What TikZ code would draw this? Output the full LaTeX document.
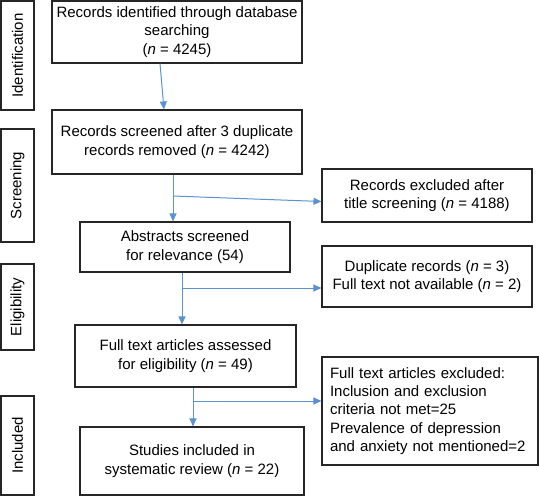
\documentclass[tikz,border=0pt]{standalone}
\usepackage{fontspec}
\setmainfont{Liberation Sans}
\usetikzlibrary{arrows.meta}
\newcommand{\nn}{\textit{n}}
\definecolor{flowblue}{RGB}{91,146,207}

\begin{document}
\begin{tikzpicture}[x=1pt,y=-1pt]
                        \tikzstyle{box}=[draw=black!85, line width=1.1pt, align=center, inner sep=0pt, font=\fontsize{15}{18.3}\selectfont]
                        \tikzstyle{stage}=[box, rotate=90, minimum height=33pt]
                        \tikzstyle{flow}=[draw=flowblue, line width=1pt, -{Triangle[length=8pt,width=7pt]}]
                        \useasboundingbox (0,0) rectangle (540,497);
                        % stages
                        \node[stage, minimum width=109pt] (ident) at (17.5,55.5) {Identification};
                        \node[stage, minimum width=113pt] (screen) at (17.5,185.5) {Screening};
                        \node[stage, minimum width=86pt] (elig) at (17.5,307) {Eligibility};
                        \node[stage, minimum width=99pt] (incl) at (17.5,445.5) {Included};
                        % main column
                        \node[box, minimum width=250pt, minimum height=62pt] (found) at (177,32)
                            {Records identified through database\\searching\\(\nn{} = 4245)};
                        \node[box, minimum width=250pt, minimum height=64pt] (screened) at (177,142)
                            {Records screened after 3 duplicate\\records removed (\nn{} = 4242)};
                        \node[box, minimum width=210pt, minimum height=50pt] (abstracts) at (185,247)
                            {Abstracts screened\\for relevance (54)};
                        \node[box, minimum width=221pt, minimum height=62pt] (fulltext) at (185.5,356)
                            {Full text articles assessed\\for eligibility (\nn{} = 49)};
                        \node[box, minimum width=224pt, minimum height=68pt] (studies) at (192,461)
                            {Studies included in\\systematic review (\nn{} = 22)};
                        % exclusions
                        \node[box, minimum width=210pt, minimum height=53pt] (exclA) at (427,195.5)
                            {Records excluded after\\title screening (\nn{} = 4188)};
                        \node[box, minimum width=210pt, minimum height=61pt] (exclB) at (427,276.5)
                            {Duplicate records (\nn{} = 3)\\Full text not available (\nn{} = 2)};
                        \node[box, align=left, text width=200pt, inner xsep=8pt, minimum height=108pt] (exclC) at (430,411)
                            {Full text articles excluded:\\Inclusion and exclusion\\criteria not met=25\\Prevalence of depression\\and anxiety not mentioned=2};
                        % connectors
                        \coordinate (splitA) at (173,196);
                        \coordinate (splitB) at (182,288);
                        \coordinate (splitC) at (193,401);
                        \draw[flow] ([xshift=-17pt]found.south) -- ([xshift=-13pt]screened.north);
                        \draw[flow] ([xshift=-4pt]screened.south) -- ([xshift=-12pt]abstracts.north);
                        \draw[flow] (splitA) -- ([yshift=-6pt]exclA.west);
                        \draw[flow] ([xshift=-3pt]abstracts.south) -- ([xshift=-3.5pt]fulltext.north);
                        \draw[flow] (splitB) -- ([yshift=-11.5pt]exclB.west);
                        \draw[flow] ([xshift=7.5pt]fulltext.south) -- ([xshift=1pt]studies.north);
                        \draw[flow] (splitC) -- ([yshift=10pt]exclC.west);
\end{tikzpicture}
\end{document}
